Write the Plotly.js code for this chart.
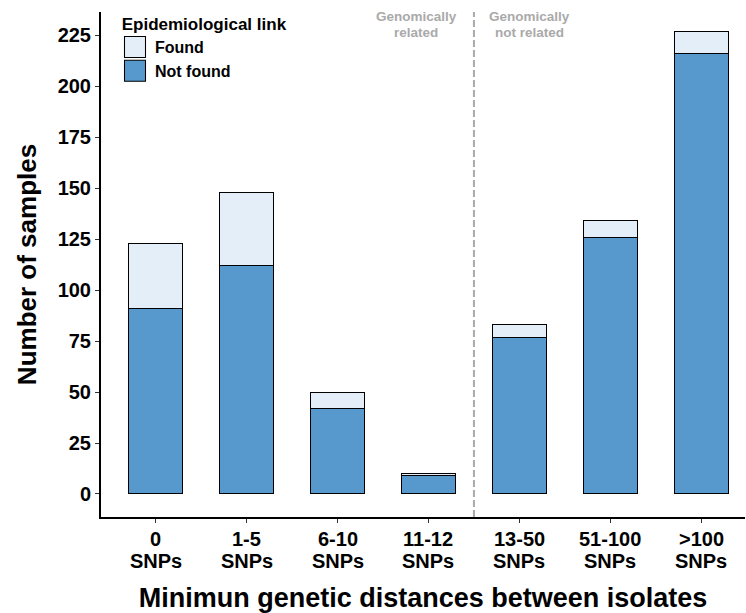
<!DOCTYPE html>
<html>
<head>
<meta charset="utf-8">
<script src="https://cdn.plot.ly/plotly-3.0.1.min.js"></script>
<style>html,body{margin:0;padding:0;background:#fff;}#chart{width:746px;height:613px;}</style>
</head>
<body>
<div id="chart"></div>
<script>
const categories = ["0", "1-5", "6-10", "11-12", "13-50", "51-100", ">100"];
const unitLabel = "SNPs";
const notFound = [91, 112, 42, 9, 77, 126, 216];
const found = [32, 36, 8, 1, 6, 8, 11];
const yTicks = [0, 25, 50, 75, 100, 125, 150, 175, 200, 225];

const FONT = "Liberation Sans, Arial, sans-serif";

const traces = [
  {
    type: "bar", name: "Not found", x: categories, y: notFound,
    width: 0.6, legendrank: 2,
    marker: {color: "#5799cc", line: {color: "#000", width: 1}}
  },
  {
    type: "bar", name: "Found", x: categories, y: found,
    width: 0.6, legendrank: 1,
    marker: {color: "#e3eef8", line: {color: "#000", width: 1}}
  }
];

// two-line category labels under the x axis (category, then unit)
function tickLine(c, text, yshift) {
  return {
    xref: "x", yref: "paper", x: c, y: 0, xanchor: "center", yanchor: "top",
    yshift: yshift, text: "<b>" + text + "</b>", showarrow: false,
    font: {size: 20, family: FONT, color: "#000"}
  };
}
const tickAnnotations = [];
categories.forEach(c => {
  tickAnnotations.push(tickLine(c, c.replace(">", "&gt;"), -8.5));
  tickAnnotations.push(tickLine(c, unitLabel, -31));
});

function grayNote(text, xshift, ypix) {
  return {
    xref: "x", yref: "paper", x: 3.5, y: 1 - (ypix - 12) / 505,
    xanchor: "center", yanchor: "middle", xshift: xshift,
    text: "<b>" + text + "</b>", showarrow: false,
    font: {size: 13.5, family: FONT, color: "#aaaaaa"}
  };
}

const layout = {
  width: 746, height: 613,
  margin: {l: 101, r: 1, t: 12, b: 96},
  paper_bgcolor: "#fff", plot_bgcolor: "#fff",
  barmode: "stack",
  font: {family: FONT, color: "#000"},
  showlegend: true,
  legend: {
    x: (115 - 101) / 644, y: 1.008, xanchor: "left", yanchor: "top",
    bgcolor: "rgba(0,0,0,0)",
    title: {text: "<b>&nbsp;Epidemiological link</b>", font: {size: 17, family: FONT}},
    font: {size: 16, family: FONT, weight: "bold"},
    traceorder: "normal",
    tracegroupgap: 0
  },
  xaxis: {
    type: "category",
    categoryarray: categories, categoryorder: "array",
    range: [-0.6, 6.48],
    showline: true, linecolor: "#000", linewidth: 2,
    ticks: "outside", ticklen: 4, tickcolor: "#333", tickwidth: 1,
    showticklabels: false,
    showgrid: false, zeroline: false,
    title: {text: "<b>Minimun genetic distances between isolates</b>", font: {size: 27, family: FONT}, standoff: 66}
  },
  yaxis: {
    range: [-11.3, 236.5],
    tickvals: yTicks,
    showline: true, linecolor: "#000", linewidth: 2,
    ticks: "outside", ticklen: 4, tickcolor: "#333", tickwidth: 1,
    tickfont: {size: 20, family: FONT, weight: "bold", color: "#000"},
    showgrid: false, zeroline: false,
    title: {text: "<b>Number of samples</b>", font: {size: 26, family: FONT}, standoff: 14}
  },
  shapes: [
    {type: "line", xref: "x", yref: "paper", x0: 3.5, x1: 3.5, y0: 0, y1: 1,
     line: {color: "#aaaaaa", width: 2, dash: "7px,3px"}}
  ],
  annotations: [
    grayNote("Genomically", -57.5, 16),
    grayNote("related", -57.5, 32),
    grayNote("Genomically", 55.5, 16),
    grayNote("not related", 55.5, 32)
  ].concat(tickAnnotations)
};

Plotly.newPlot("chart", traces, layout, {displayModeBar: false, staticPlot: true}).then(gd => {
  // enlarge legend swatches to match the reference key size
  gd.querySelectorAll(".legend .legendpoints path").forEach(p => {
    const t = p.getAttribute("transform") || "";
    p.setAttribute("transform", t + " scale(1.75)");
    p.style.strokeWidth = "0.6px";
  });
});
</script>
</body>
</html>
